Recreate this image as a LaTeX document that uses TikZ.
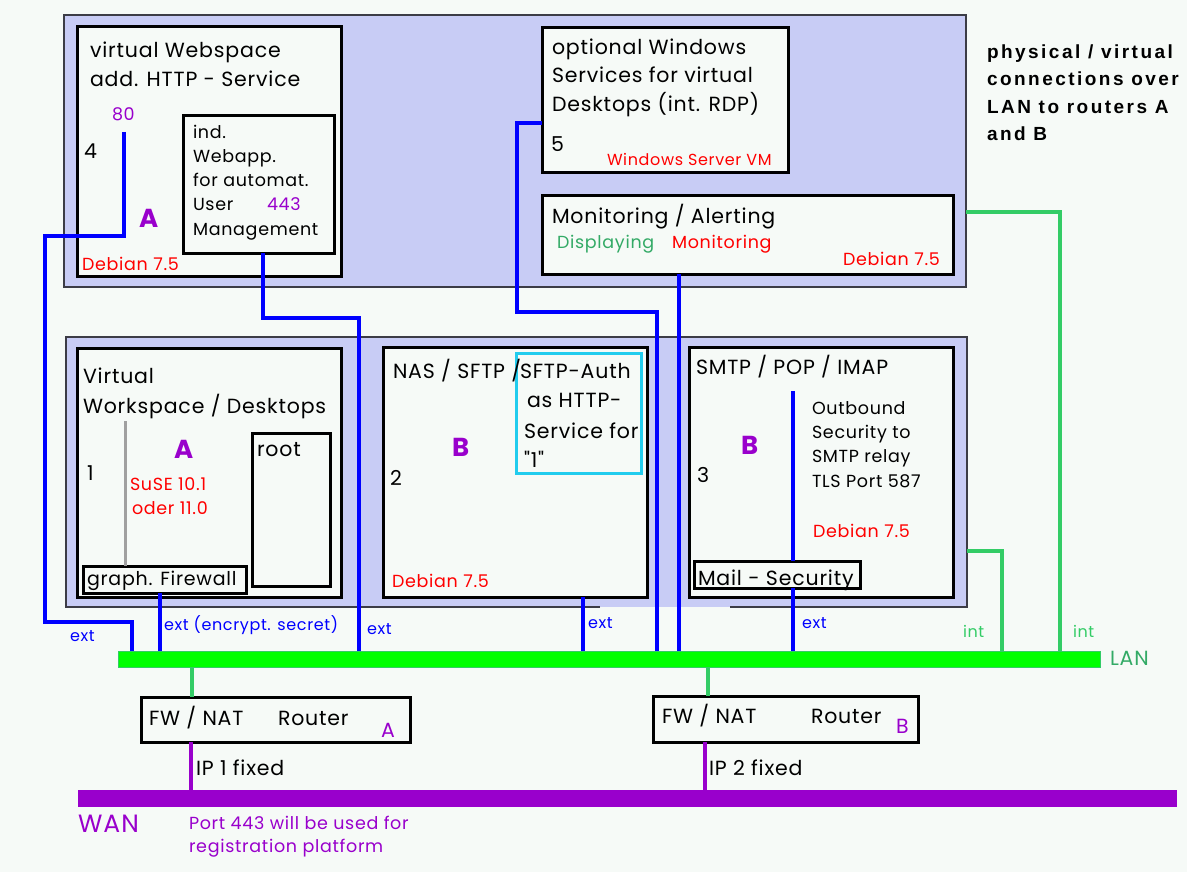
\documentclass[tikz,border=0pt]{standalone}
\usepackage{fontspec}
\setmainfont{Poppins}[LetterSpace=4]
\newfontfamily\popq{Poppins}[LetterSpace=4, Ligatures=TeXOff]
\newfontfamily\hdfont[LetterSpace=13]{Liberation Sans}
\definecolor{bgc}{RGB}{246,250,247}
\definecolor{lav}{RGB}{200,204,245}
\definecolor{panelline}{RGB}{60,60,70}
\definecolor{blueL}{RGB}{0,0,255}
\definecolor{lang}{RGB}{0,255,0}
\definecolor{gl}{RGB}{51,204,102}
\definecolor{gtext}{RGB}{51,170,102}
\definecolor{pur}{RGB}{153,0,204}
\definecolor{redc}{RGB}{255,0,0}
\definecolor{cyanc}{RGB}{34,204,238}
\definecolor{grayl}{RGB}{160,160,160}
\newcommand\mkbox[6]{\node[#2, minimum width={(#5)-(#3)}, minimum height={(#6)-(#4)}] (#1) at ({((#3)+(#5))/2},{((#4)+(#6))/2}) {};}
\begin{document}
\begin{tikzpicture}[x=1pt,y=-1pt,
  panel/.style={rectangle, fill=lav, draw=panelline, line width=1.5pt, inner sep=0pt, outer sep=0pt},
  panelfill/.style={rectangle, fill=lav, inner sep=0pt, outer sep=0pt},
  box/.style={rectangle, draw=black, line width=3pt, fill=bgc, inner sep=0pt, outer sep=0pt},
  authbox/.style={rectangle, draw=cyanc, line width=3pt, inner sep=0pt, outer sep=0pt},
  lanbar/.style={rectangle, fill=lang, draw=gl, line width=1pt, inner sep=0pt, outer sep=0pt},
  wanbar/.style={rectangle, fill=pur, inner sep=0pt, outer sep=0pt},
  bwire/.style={draw=blueL, line width=4pt},
  gwire/.style={draw=gl, line width=4pt},
  pwire/.style={draw=pur, line width=4pt},
  swire/.style={draw=grayl, line width=3pt},
  t/.style={anchor=base west, inner sep=0pt, outer sep=0pt},
  big/.style={t, font=\fontsize{20.5}{24}\selectfont},
  mid/.style={t, font=\fontsize{17.5}{20}\selectfont},
  sml/.style={t, font=\fontsize{16}{18}\selectfont},
  lettr/.style={t, font=\fontsize{26}{26}\selectfont\bfseries, text=pur},
  hd/.style={t, font=\hdfont\bfseries\fontsize{19}{27}\selectfont},
]
\useasboundingbox (0,0) rectangle (1187,872);
\fill[bgc] (0,0) rectangle (1187,872);

% panels
\mkbox{toppanel}{panel}{64}{15}{966}{287}
\mkbox{botpanel}{panelfill}{66}{337}{967}{607}
\draw[panelline, line width=1.5pt] (600,607) -- (botpanel.south west) -- (botpanel.north west) -- (botpanel.north east) -- (botpanel.south east) -- (730,607);

% boxes
\mkbox{b4}{box}{77}{27}{341}{276}
\mkbox{webapp}{box}{183}{116}{334}{253}
\mkbox{b5}{box}{542}{28}{788}{173}
\mkbox{mon}{box}{542}{196}{953}{274}
\mkbox{b1}{box}{77}{348}{341}{597}
\mkbox{root}{box}{252}{433}{330}{586}
\mkbox{fw}{box}{83}{566}{246}{593}
\mkbox{b2}{box}{383}{347}{647}{597}
\mkbox{b3}{box}{689}{347}{953}{597}
\mkbox{mailsec}{box}{694}{561}{860}{588}
\mkbox{routerA}{box}{141}{697}{410}{742}
\mkbox{routerB}{box}{653}{696}{918}{742}

% named points
\coordinate (p80) at (124,132);

% wires
\draw[bwire] (p80) -- (124,236) -- (45,236) -- (45,622) -- (132,622) -- (132,660);
\draw[bwire] (263,253) -- (263,318) -- (359,318) -- (359,660);
\draw[bwire] (b5.west |- 0,123) -- (517,123) -- (517,312) -- (657,312) -- (657,660);
\draw[bwire] (679,274) -- (679,660);
\draw[bwire] (160,593) -- (160,660);
\draw[bwire] (583,597) -- (583,660);
\draw[bwire] (793,391) -- (793,561);
\draw[bwire] (793,588) -- (793,660);
\draw[swire] (125,421) -- (125,566);
\draw[gwire] (966,212) -- (1060,212) -- (1060,660);
\draw[gwire] (967,551) -- (1002,551) -- (1002,660);
\draw[gwire] (192,660) -- (192,697);
\draw[gwire] (708,660) -- (708,696);
\draw[pwire] (191,742) -- (191,798);
\draw[pwire] (705,742) -- (705,798);

\mkbox{lan}{lanbar}{118}{651}{1100}{667}
\mkbox{wan}{wanbar}{78}{790}{1177}{807}

% cyan auth box
\mkbox{auth}{authbox}{516}{353}{641}{473}

% texts top-left
\node[big] at (90,58) {virtual Webspace};
\node[big] at (90,87) {add. HTTP - Service};
\node[mid, text=pur] at (112,121) {80};
\node[big] at (84,159) {4};
\node[lettr] at (139,228) {A};
\node[mid, text=redc] at (82,270) {Debian 7.5};
\node[mid] at (193,139) {ind.};
\node[mid] at (193,163) {Webapp.};
\node[mid] at (193,187) {for automat.};
\node[mid] at (193,211) {User};
\node[mid, text=pur] at (267,211) {443};
\node[mid] at (193,235) {Management};

% texts top-right
\node[big] at (552,55) {optional Windows};
\node[big] at (552,83) {Services for virtual};
\node[big] at (552,112) {Desktops (int. RDP)};
\node[big] at (551,152) {5};
\node[sml, text=redc] at (607,166) {Windows Server VM};
\node[big] at (552,223) {Monitoring / Alerting};
\node[mid, text=gtext] at (557,248) {Displaying};
\node[mid, text=redc] at (672,248) {Monitoring};
\node[mid, text=redc] at (843,265) {Debian 7.5};

% header right
\node[hd] at (987,59) {physical / virtual};
\node[hd] at (987,86) {connections over};
\node[hd] at (987,114) {LAN to routers A};
\node[hd] at (987,141) {and B};

% box 1
\node[big] at (83,383) {Virtual};
\node[big] at (83,413) {Workspace / Desktops};
\node[big] at (87,480) {1};
\node[lettr] at (174,458) {A};
\node[mid, text=redc] at (130,490) {SuSE 10.1};
\node[mid, text=redc] at (132,514) {oder 11.0};
\node[big] at (257,456) {root};
\node[t, font=\fontsize{19}{22}\selectfont] at (87,585) {graph. Firewall};

% box 2
\node[big] at (393,378) {NAS / SFTP /};
\node[big] at (520,378) {SFTP-Auth};
\node[big] at (527,407) {as HTTP-};
\node[big] at (524,438) {Service for};
\node[big, font=\popq\fontsize{20.5}{24}\selectfont] at (524,467) {"1"};
\node[lettr] at (452,456) {B};
\node[big] at (390,485) {2};
\node[mid, text=redc] at (392,587) {Debian 7.5};

% box 3
\node[big] at (696,374) {SMTP / POP / IMAP};
\node[mid] at (812,414) {Outbound};
\node[mid] at (812,438) {Security to};
\node[mid] at (812,462) {SMTP relay};
\node[mid] at (812,487) {TLS Port 587};
\node[lettr] at (741,454) {B};
\node[big] at (697,482) {3};
\node[mid, text=redc] at (813,537) {Debian 7.5};
\node[big] at (698,585) {Mail - Security};

% link labels
\node[sml, text=blueL] at (70,641) {ext};
\node[sml, text=blueL] at (164,630) {ext (encrypt. secret)};
\node[sml, text=blueL] at (367,634) {ext};
\node[sml, text=blueL] at (588,628) {ext};
\node[sml, text=blueL] at (802,628) {ext};
\node[sml, text=gl] at (963,637) {int};
\node[sml, text=gl] at (1073,637) {int};
\node[big, text=gtext] at (1110,665) {LAN};

% routers
\node[big] at (149,725) {FW / NAT};
\node[big] at (278,725) {Router};
\node[big, text=pur] at (381,737) {A};
\node[big] at (662,723) {FW / NAT};
\node[big] at (811,723) {Router};
\node[big, text=pur] at (896,733) {B};
\node[big] at (196,775) {IP 1 fixed};
\node[big] at (709,775) {IP 2 fixed};

% WAN
\node[t, font=\fontsize{25}{25}\selectfont, text=pur] at (78,832) {WAN};
\node[mid, text=pur] at (189,829) {Port 443 will be used for};
\node[mid, text=pur] at (189,852) {registration platform};
\end{tikzpicture}
\end{document}
